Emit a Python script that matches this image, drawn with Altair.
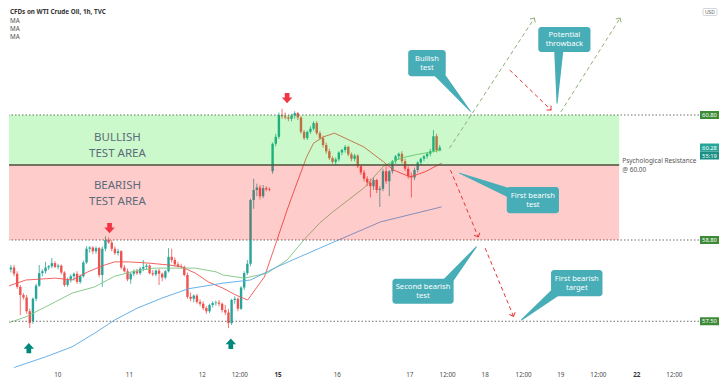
import math
import altair as alt
import pandas as pd
import numpy as np

# ---------------- data ----------------
# hourly candles (open, high, low, close), bar index = position
CANDLES = [
    (58.50, 58.53, 58.30, 58.33), (58.33, 58.40, 58.28, 58.36), (58.36, 58.40, 58.22, 58.26),
    (58.26, 58.30, 58.02, 58.05), (58.05, 58.08, 57.60, 57.92), (57.92, 57.95, 57.85, 57.88),
    (57.88, 57.92, 57.62, 57.66), (57.66, 57.70, 57.39, 57.47), (57.50, 57.88, 57.46, 57.86),
    (57.86, 58.10, 57.82, 58.07), (58.07, 58.40, 58.05, 58.27), (58.27, 58.33, 58.22, 58.30),
    (58.30, 58.45, 58.26, 58.36), (58.36, 58.40, 58.32, 58.38), (58.38, 58.51, 58.35, 58.43),
    (58.43, 58.46, 58.35, 58.37), (58.37, 58.42, 58.33, 58.39), (58.39, 58.41, 58.25, 58.28),
    (58.28, 58.30, 58.05, 58.08), (58.08, 58.20, 58.05, 58.17), (58.17, 58.25, 58.12, 58.22),
    (58.22, 58.28, 58.15, 58.26), (58.26, 58.30, 58.10, 58.13), (58.13, 58.25, 58.10, 58.22),
    (58.22, 58.47, 58.20, 58.44), (58.44, 58.70, 58.42, 58.66), (58.66, 58.70, 58.60, 58.68),
    (58.68, 58.70, 58.58, 58.62), (58.62, 58.70, 58.58, 58.67), (58.67, 58.69, 58.20, 58.24),
    (58.24, 58.70, 58.05, 58.66), (58.66, 58.86, 58.62, 58.80), (58.80, 58.84, 58.74, 58.76),
    (58.76, 58.80, 58.62, 58.66), (58.66, 58.70, 58.56, 58.59), (58.59, 58.66, 58.55, 58.62),
    (58.62, 58.64, 58.33, 58.36), (58.36, 58.40, 58.28, 58.30), (58.30, 58.34, 58.14, 58.17),
    (58.17, 58.28, 58.10, 58.26), (58.26, 58.33, 58.22, 58.30), (58.30, 58.34, 58.24, 58.27),
    (58.27, 58.37, 58.24, 58.34), (58.34, 58.48, 58.30, 58.37), (58.37, 58.42, 58.32, 58.39),
    (58.39, 58.41, 58.25, 58.27), (58.27, 58.32, 58.22, 58.25), (58.25, 58.33, 58.22, 58.31),
    (58.31, 58.34, 58.08, 58.26), (58.26, 58.28, 58.14, 58.20), (58.20, 58.32, 58.17, 58.30),
    (58.30, 58.67, 58.28, 58.53), (58.53, 58.66, 58.44, 58.48), (58.48, 58.52, 58.38, 58.41),
    (58.41, 58.45, 58.36, 58.38), (58.38, 58.42, 58.34, 58.37), (58.37, 58.39, 58.22, 58.24),
    (58.24, 58.28, 57.86, 57.89), (57.89, 57.96, 57.82, 57.86), (57.86, 57.93, 57.80, 57.91),
    (57.91, 57.94, 57.78, 57.81), (57.81, 57.85, 57.74, 57.78), (57.78, 57.82, 57.68, 57.71),
    (57.71, 57.74, 57.62, 57.66), (57.66, 57.78, 57.63, 57.76), (57.76, 57.82, 57.72, 57.79),
    (57.79, 57.83, 57.75, 57.80), (57.80, 57.84, 57.74, 57.78), (57.78, 57.80, 57.64, 57.68),
    (57.68, 57.76, 57.60, 57.64), (57.64, 57.70, 57.39, 57.47), (57.47, 57.86, 57.44, 57.84),
    (57.84, 57.90, 57.78, 57.86), (57.86, 57.88, 57.66, 57.70), (57.70, 58.06, 57.68, 58.04),
    (58.04, 58.30, 58.00, 58.27), (58.27, 58.48, 58.24, 58.42), (58.42, 59.46, 58.38, 59.44),
    (59.44, 59.78, 59.30, 59.60), (59.60, 59.70, 59.50, 59.64), (59.64, 59.68, 59.45, 59.50),
    (59.50, 59.68, 59.47, 59.63), (59.63, 59.66, 59.58, 59.61), (59.61, 59.64, 59.58, 59.60),
    (59.90, 60.36, 59.86, 60.34), (60.34, 60.50, 60.30, 60.45), (60.45, 60.84, 60.42, 60.80),
    (60.80, 60.90, 60.74, 60.78), (60.78, 60.84, 60.73, 60.76), (60.76, 60.80, 60.70, 60.74),
    (60.74, 60.82, 60.70, 60.79), (60.79, 60.86, 60.74, 60.83), (60.83, 60.85, 60.72, 60.76),
    (60.76, 60.78, 60.50, 60.53), (60.53, 60.56, 60.40, 60.43), (60.43, 60.55, 60.40, 60.53),
    (60.53, 60.62, 60.50, 60.58), (60.58, 60.70, 60.55, 60.67), (60.67, 60.70, 60.48, 60.51),
    (60.51, 60.54, 60.40, 60.43), (60.43, 60.47, 60.28, 60.32), (60.32, 60.36, 60.18, 60.22),
    (60.22, 60.26, 60.08, 60.11), (60.11, 60.14, 60.02, 60.05), (60.05, 60.12, 60.00, 60.09),
    (60.09, 60.22, 60.06, 60.20), (60.20, 60.26, 60.16, 60.24), (60.24, 60.32, 60.20, 60.29),
    (60.29, 60.31, 60.14, 60.17), (60.17, 60.20, 60.06, 60.10), (60.10, 60.18, 60.06, 60.15),
    (60.15, 60.17, 59.95, 59.98), (59.98, 60.00, 59.84, 59.88), (59.88, 59.92, 59.74, 59.78),
    (59.78, 59.82, 59.66, 59.72), (59.72, 59.78, 59.48, 59.66), (59.66, 59.80, 59.60, 59.76),
    (59.76, 59.78, 59.55, 59.60), (59.60, 59.66, 59.33, 59.62), (59.62, 59.94, 59.58, 59.90),
    (59.90, 59.98, 59.70, 59.74), (59.74, 59.92, 59.50, 59.90), (59.90, 60.08, 59.86, 60.06),
    (60.06, 60.16, 60.02, 60.14), (60.14, 60.20, 60.08, 60.18), (60.18, 60.22, 60.02, 60.06),
    (60.06, 60.10, 59.90, 59.94), (59.94, 59.98, 59.78, 59.82), (59.82, 59.88, 59.48, 59.80),
    (59.80, 59.96, 59.76, 59.92), (59.92, 60.06, 59.88, 60.04), (60.04, 60.12, 60.00, 60.10),
    (60.10, 60.16, 60.06, 60.14), (60.14, 60.20, 60.10, 60.18), (60.18, 60.26, 60.14, 60.22),
    (60.22, 60.56, 60.20, 60.46), (60.46, 60.50, 60.20, 60.24), (60.24, 60.32, 60.22, 60.28),
]

# moving averages: (bar index, price)
MA_FAST = [(-0.5, 58.05), (5.75, 58.16), (15.1, 58.19), (20.4, 58.16), (25.4, 58.29), (30.75, 58.40),
           (33.9, 58.45), (38.6, 58.45), (44.8, 58.43), (51.1, 58.40), (55.1, 58.37), (59.5, 58.27),
           (63.6, 58.13), (68.25, 58.03), (72.3, 57.92), (76.1, 57.84), (81.4, 58.21), (85.4, 58.80),
           (88.6, 59.28), (91.7, 59.71), (94.8, 60.13), (97.0, 60.35), (100.1, 60.45), (103.6, 60.51),
           (108.25, 60.40), (112.9, 60.29), (119.2, 60.05), (122.3, 59.92), (127.6, 59.81),
           (132.3, 59.89), (137.6, 60.03)]
MA_MID = [(-0.5, 57.46), (5.75, 57.57), (15.1, 57.81), (20.4, 57.95), (27.6, 58.05), (33.9, 58.22),
          (40.1, 58.30), (46.4, 58.35), (53.25, 58.35), (59.5, 58.35), (66.1, 58.29), (68.25, 58.24),
          (75.1, 58.19), (82.3, 58.27), (88.6, 58.48), (93.9, 58.80), (98.9, 59.07), (102.6, 59.23),
          (112.9, 59.63), (119.2, 59.98), (124.5, 60.11), (130.0, 60.17), (137.6, 60.24)]
MA_SLOW = [(-0.5, 56.67), (2.6, 56.77), (12.0, 56.93), (20.4, 57.09), (27.6, 57.31), (33.9, 57.52),
           (41.1, 57.71), (48.9, 57.87), (57.3, 58.02), (68.25, 58.11), (77.0, 58.16), (85.4, 58.37),
           (92.6, 58.53), (102.6, 58.75), (118.25, 59.09), (137.6, 59.33)]

X_TICKS = [15.9, 38.6, 61.7, 73.6, 85.75, 104.5, 127.5, 139.5, 151.4, 163.6, 175.4, 187.3, 199.5, 211.4]
X_LABELS = ['10', '11', '12', '12:00', '15', '16', '17', '12:00', '18', '12:00', '19', '12:00', '22', '12:00']
X_BOLD = ['15', '22']
Y_TICKS = [57.0, 57.5, 58.0, 58.5, 59.0, 59.5, 60.0, 60.5, 61.0, 61.5, 62.0]

LEVELS = [60.80, 58.80, 57.50]
PSYCH = 60.00
ZONE_END = 193.9
ZONES = [("BULLISH\nTEST AREA", 60.80, 60.00, "#00e000", 34.8, 60.44),
         ("BEARISH\nTEST AREA", 60.00, 58.80, "#ff0000", 34.8, 59.67)]

# projected paths: (t1, p1, t2, p2, colour)
PATHS = [(140.1, 60.27, 167.0, 62.35, "#8fae7a"),
         (159.2, 61.52, 172.3, 60.88, "#e53935"),
         (175.4, 60.85, 194.2, 62.35, "#8fae7a"),
         (140.4, 59.92, 149.2, 58.85, "#e53935"),
         (151.4, 58.67, 160.4, 57.58, "#e53935")]

# callouts: text, box (t1, t2, p_top, p_bottom), tail (t_base, p_base, t_tip, p_tip)
CALLOUTS = [("Bullish\ntest", 127.0, 138.9, 61.84, 61.42, 135.75, 61.52, 146.7, 60.86),
            ("Potential\nthrowback", 168.25, 184.8, 62.21, 61.81, 174.8, 61.92, 174.2, 60.99),
            ("First bearish\ntest", 158.25, 174.8, 59.65, 59.23, 160.75, 59.52, 143.25, 59.87),
            ("Second bearish\ntest", 122.0, 141.4, 58.18, 57.78, 138.25, 58.06, 148.6, 58.69),
            ("First bearish\ntarget", 172.3, 188.6, 58.32, 57.90, 175.1, 58.02, 162.9, 57.52)]

SIGNALS_DOWN = [(32.3, 58.99), (88.6, 61.07)]
SIGNALS_UP = [(6.7, 57.07), (70.75, 57.14)]

PRICE_TAGS = [("60.80", 60.80, "#3d8b37"), ("58.80", 58.80, "#3d8b37"), ("57.50", 57.50, "#3d8b37"),
              ("60.28", 60.28, "#26a69a"), ("55:19", 60.152, "#1b8f86")]

# ---------------- layout ----------------
W, H = 690, 360
PX_T, PX_P = 3.2, 62.5
T_DOMAIN = [2.0, 2.0 + W / PX_T]
P_DOMAIN = [62.512 - H / PX_P, 62.512]
FONT = "Noto Sans"
TEAL = "#47adb6"

xs = alt.Scale(domain=T_DOMAIN, nice=False, zero=False)
ys = alt.Scale(domain=P_DOMAIN, nice=False, zero=False)


def X(f, **kw):
    return alt.X(f, scale=xs, axis=None, **kw)


def Y(f, **kw):
    return alt.Y(f, scale=ys, axis=None, **kw)


cdf = pd.DataFrame(CANDLES, columns=["o", "h", "l", "c"])
cdf["t"] = np.arange(len(cdf))
cdf["col"] = np.where(cdf["c"] >= cdf["o"], "#26a69a", "#ef5350")

xaxis = alt.Axis(values=X_TICKS, labels=False, ticks=False, grid=True, gridColor="#eef1f5",
                 domainColor="#9aa0a8", title=None)
yaxis = alt.Axis(orient="right", values=Y_TICKS, format=".2f", labelFontSize=6.2, labelColor="#4a4a4a",
                 labelFont=FONT, tickSize=2, tickColor="#9aa0a8", domainColor="#9aa0a8", grid=True,
                 gridColor="#eef1f5", title=None, labelPadding=2)

wicks = alt.Chart(cdf).mark_rule(strokeWidth=0.8, clip=True).encode(
    x=alt.X("t:Q", scale=xs, axis=xaxis), y=alt.Y("l:Q", scale=ys, axis=yaxis), y2="h:Q",
    color=alt.Color("col:N", scale=None))
bodies = alt.Chart(cdf).mark_bar(size=2.4, clip=True).encode(
    x=X("t:Q"), y=Y("o:Q"), y2="c:Q", color=alt.Color("col:N", scale=None))

ma_rows = []
for name, pts, col in [("fast", MA_FAST, "#ef5350"), ("mid", MA_MID, "#7cc47f"), ("slow", MA_SLOW, "#5aa9e6")]:
    for i, (t, p) in enumerate(pts):
        ma_rows.append({"name": name, "i": i, "t": t, "p": p, "col": col})
madf = pd.DataFrame(ma_rows)
mas = alt.Chart(madf).mark_line(strokeWidth=1, clip=True, opacity=0.9).encode(
    x=X("t:Q"), y=Y("p:Q"), color=alt.Color("col:N", scale=None), detail="name:N", order="i:Q")

levels = alt.Chart(pd.DataFrame({"p": LEVELS})).mark_rule(
    strokeDash=[1.5, 2], color="#6b6b6b", strokeWidth=1).encode(y=Y("p:Q"))

zdf = pd.DataFrame([{"t1": -1.0, "t2": ZONE_END, "p1": z[1], "p2": z[2], "col": z[3],
                     "label": z[0], "tc": z[4], "pc": z[5]} for z in ZONES])
zones = alt.Chart(zdf).mark_rect(opacity=0.2, clip=True).encode(
    x=X("t1:Q"), x2="t2:Q", y=Y("p1:Q"), y2="p2:Q", color=alt.Color("col:N", scale=None))
zone_text = alt.Chart(zdf).mark_text(fontSize=11.5, lineHeight=16, lineBreak="\n", color="#5b6b7a",
                                     font=FONT, baseline="middle").encode(
    x=X("tc:Q"), y=Y("pc:Q"), text="label:N")

psych_line = alt.Chart(pd.DataFrame({"t1": [-1.0], "t2": [ZONE_END], "p": [PSYCH]})).mark_rule(
    color="#4f4f3a", strokeWidth=1.4, clip=True).encode(x=X("t1:Q"), x2="t2:Q", y=Y("p:Q"))
psych_text = alt.Chart(pd.DataFrame({"t": [ZONE_END + 1.0], "p": [PSYCH + 0.06],
                                     "label": ["Psychological Resistance\n@ 60.00"]})).mark_text(
    align="left", baseline="middle", fontSize=6.4, lineHeight=9, lineBreak="\n", color="#555555",
    font=FONT).encode(x=X("t:Q"), y=Y("p:Q"), text="label:N")

pdf = pd.DataFrame(PATHS, columns=["t1", "p1", "t2", "p2", "col"])
pdf["ang"] = [(math.degrees(math.atan2(-(r.t2 - r.t1) * PX_T, -(r.p2 - r.p1) * PX_P)) + 360) % 360
              for r in pdf.itertuples()]
paths = alt.Chart(pdf).mark_rule(strokeDash=[4, 3], strokeWidth=1).encode(
    x=X("t1:Q"), y=Y("p1:Q"), x2="t2:Q", y2="p2:Q", color=alt.Color("col:N", scale=None))
heads = alt.Chart(pdf).mark_point(shape="M -1 -1 L 0 0 L 1 -1", filled=False, size=40,
                                  strokeWidth=1, opacity=1).encode(
    x=X("t2:Q"), y=Y("p2:Q"), angle=alt.Angle("ang:Q", scale=None), color=alt.Color("col:N", scale=None))

crow, trow = [], []
for i, c in enumerate(CALLOUTS):
    crow.append({"label": c[0], "t1": c[1], "t2": c[2], "p1": c[3], "p2": c[4],
                 "tc": (c[1] + c[2]) / 2, "pc": (c[3] + c[4]) / 2})
    trow.append({"id": i, "ord": 0, "t": c[5], "p": c[6], "w": 10})
    trow.append({"id": i, "ord": 1, "t": c[7], "p": c[8], "w": 0})
cdf2 = pd.DataFrame(crow)
tdf = pd.DataFrame(trow)
tails = alt.Chart(tdf).mark_trail(color=TEAL).encode(
    x=X("t:Q"), y=Y("p:Q"), size=alt.Size("w:Q", scale=None), detail="id:N", order="ord:Q")
boxes = alt.Chart(cdf2).mark_rect(cornerRadius=3, color=TEAL).encode(
    x=X("t1:Q"), x2="t2:Q", y=Y("p1:Q"), y2="p2:Q")
box_text = alt.Chart(cdf2).mark_text(color="white", fontSize=7.6, lineHeight=9.5, lineBreak="\n",
                                     font=FONT, baseline="middle", dy=-4.5).encode(
    x=X("tc:Q"), y=Y("pc:Q"), text="label:N")

DOWN = "M -0.45 -1 L 0.45 -1 L 0.45 -0.1 L 1 -0.1 L 0 1 L -1 -0.1 L -0.45 -0.1 Z"
UP = "M -0.45 1 L 0.45 1 L 0.45 0.1 L 1 0.1 L 0 -1 L -1 0.1 L -0.45 0.1 Z"
sig_down = alt.Chart(pd.DataFrame(SIGNALS_DOWN, columns=["t", "p"])).mark_point(
    shape=DOWN, filled=True, size=110, color="#f23645", opacity=1).encode(x=X("t:Q"), y=Y("p:Q"))
sig_up = alt.Chart(pd.DataFrame(SIGNALS_UP, columns=["t", "p"])).mark_point(
    shape=UP, filled=True, size=110, color="#00897b", opacity=1).encode(x=X("t:Q"), y=Y("p:Q"))

head_df = pd.DataFrame({"label": ["CFDs on WTI Crude Oil, 1h, TVC", "MA", "MA", "MA"],
                        "y": [3.5, 12.5, 20.5, 28.5]})
title_txt = alt.Chart(head_df.iloc[:1]).mark_text(align="left", baseline="middle", fontSize=6.3,
                                                  fontWeight="bold", color="#333333", font=FONT).encode(
    x=alt.value(1), y=alt.Y("y:Q", scale=None), text="label:N")
ma_txt = alt.Chart(head_df.iloc[1:]).mark_text(align="left", baseline="middle", fontSize=6.3,
                                               color="#555555", font=FONT).encode(
    x=alt.value(1), y=alt.Y("y:Q", scale=None), text="label:N")

xl = pd.DataFrame({"t": X_TICKS, "label": X_LABELS})
xl_norm = alt.Chart(xl[~xl["label"].isin(X_BOLD)]).mark_text(
    fontSize=6.3, color="#4a4a4a", baseline="middle", font=FONT).encode(
    x=X("t:Q"), y=alt.value(H + 7), text="label:N")
xl_bold = alt.Chart(xl[xl["label"].isin(X_BOLD)]).mark_text(
    fontSize=6.3, color="#333333", baseline="middle", font=FONT, fontWeight="bold").encode(
    x=X("t:Q"), y=alt.value(H + 7), text="label:N")

tg = pd.DataFrame(PRICE_TAGS, columns=["label", "p", "col"])
tg["p1"] = tg["p"] + 0.064
tg["p2"] = tg["p"] - 0.064
tag_box = alt.Chart(tg).mark_rect().encode(
    x=alt.value(W + 1), x2=alt.value(W + 20), y=Y("p1:Q"), y2="p2:Q", color=alt.Color("col:N", scale=None))
tag_txt = alt.Chart(tg).mark_text(fontSize=5.8, color="white", baseline="middle", font=FONT).encode(
    x=alt.value(W + 10.5), y=Y("p:Q"), text="label:N")

usd = pd.DataFrame({"label": ["USD"]})
usd_box = alt.Chart(usd).mark_rect(fill="white", stroke="#c8ccd2", strokeWidth=0.8, cornerRadius=1).encode(
    x=alt.value(W + 4), x2=alt.value(W + 18), y=alt.value(0.5), y2=alt.value(7.5))
usd_txt = alt.Chart(usd).mark_text(fontSize=5, color="#666666", baseline="middle", font=FONT).encode(
    x=alt.value(W + 11), y=alt.value(4), text="label:N")

chart = alt.layer(
    wicks, bodies, mas, levels, zones, psych_line, zone_text, psych_text,
    paths, heads, tails, boxes, box_text, sig_down, sig_up,
    title_txt, ma_txt, xl_norm, xl_bold, tag_box, tag_txt, usd_box, usd_txt
).properties(width=W, height=H, padding=0, background="white").configure_view(stroke=None)

chart.save("out.html", embed_options={"renderer": "svg", "actions": False})
